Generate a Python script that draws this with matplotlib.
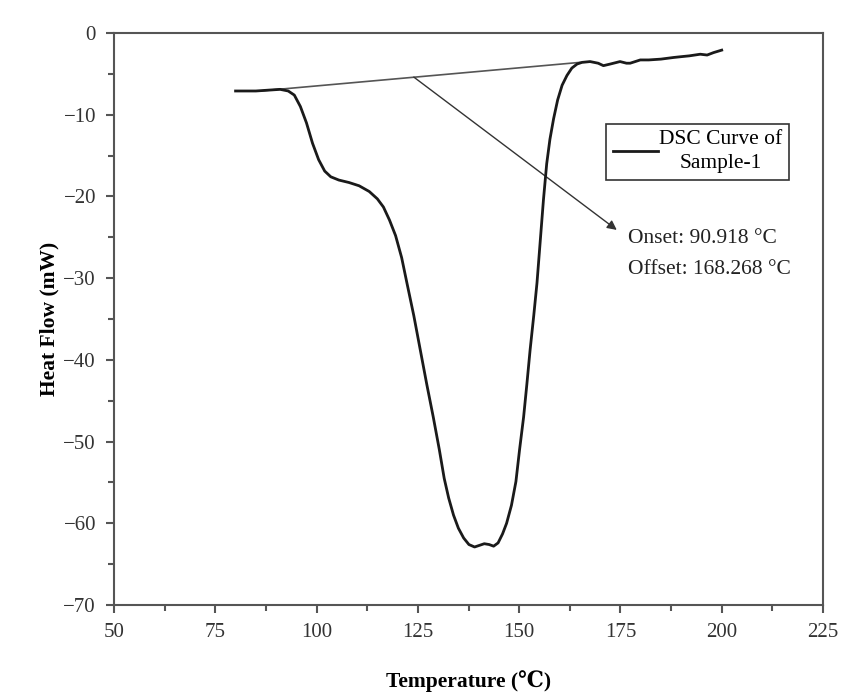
import matplotlib
matplotlib.use("Agg")
import matplotlib.pyplot as plt
from matplotlib.ticker import MultipleLocator

plt.rcParams['font.family'] = ['Liberation Serif', 'DejaVu Serif']

temperature = [80.0, 85, 88, 91, 93, 94.5, 96, 97.5, 99, 100.5, 102, 103.5, 105.5, 108,
               110.5, 113, 115, 116.5, 118, 119.5, 121, 122.3, 124, 125.6, 127.2, 128.8,
               130.3, 131.5, 132.6, 133.8, 135, 136.3, 137.6, 139.0, 140.2, 141.4, 142.6,
               143.7, 144.8, 145.9, 146.9, 148.1, 149.2, 150.1, 151.1, 151.9, 152.7, 153.6,
               154.4, 155.2, 156.0, 156.8, 157.6, 158.5, 159.5, 160.6, 161.8, 163.0, 164.3,
               165.5, 167.5, 169.5, 170.8, 172.5, 174.9, 176.5, 177.4, 179.9, 182, 185,
               188.1, 190, 192, 194.7, 196.4, 198, 200]
heat_flow = [-7.1, -7.1, -7.0, -6.9, -7.1, -7.6, -9.0, -11.0, -13.5, -15.5, -16.9, -17.6, -18.0,
             -18.3, -18.7, -19.4, -20.3, -21.3, -22.9, -24.8, -27.5, -30.6, -34.6, -38.8, -43.0,
             -47.0, -51.0, -54.5, -56.9, -59.0, -60.6, -61.8, -62.6, -62.9, -62.7, -62.5, -62.6,
             -62.8, -62.4, -61.3, -60.0, -57.8, -54.9, -51.0, -47.0, -43.0, -38.8, -34.6, -30.6,
             -25.5, -20.4, -16.0, -13.0, -10.5, -8.2, -6.4, -5.2, -4.3, -3.8, -3.6, -3.5, -3.7,
             -4.0, -3.8, -3.5, -3.7, -3.7, -3.3, -3.3, -3.2, -3.0, -2.9, -2.8, -2.6, -2.7, -2.4,
             -2.1]

baseline_T = [86.0, 165.0]
baseline_HF = [-7.1, -3.6]
arrow_start = (124.0, -5.4)
arrow_end = (174.1, -24.1)

series_label = "DSC Curve of\nSample-1"
onset_text = "Onset: 90.918 °C"
offset_text = "Offset: 168.268 °C"
x_label = "Temperature (℃)"
y_label = "Heat Flow (mW)"

fig = plt.figure(figsize=(8.58, 7.0), dpi=100)
ax = fig.add_axes([0.1329, 0.1357, 0.8263, 0.8172])

ax.plot(baseline_T, baseline_HF, color='#555555', lw=1.2, zorder=2)
ax.annotate('', xy=arrow_end, xytext=arrow_start,
            arrowprops=dict(arrowstyle='-|>', color='#333333', lw=1.0,
                            mutation_scale=14, shrinkA=0, shrinkB=0), zorder=3)
line, = ax.plot(temperature, heat_flow, color='#1a1a1a', lw=2.0, label=series_label, zorder=4)

ax.text(176.8, -25.1, onset_text, fontsize=15.5, color='#222222', va='center', ha='left')
ax.text(176.8, -29.0, offset_text, fontsize=15.5, color='#222222', va='center', ha='left')

ax.set_xlim(50, 225)
ax.set_ylim(-70, 0)
ax.xaxis.set_major_locator(MultipleLocator(25))
ax.xaxis.set_minor_locator(MultipleLocator(12.5))
ax.yaxis.set_major_locator(MultipleLocator(10))
ax.yaxis.set_minor_locator(MultipleLocator(5))

for sp in ax.spines.values():
    sp.set_color('#555555')
    sp.set_linewidth(1.5)
ax.tick_params(which='major', direction='out', length=6, width=1.5, color='#555555',
               labelsize=15, labelcolor='#333333', pad=7)
ax.tick_params(which='minor', direction='out', length=4, width=1.5, color='#555555')

ax.set_xlabel(x_label, fontsize=15.5, fontweight='bold', labelpad=20)
ax.set_ylabel(y_label, fontsize=15.5, fontweight='bold', labelpad=3)

leg = ax.legend(loc='upper left', bbox_to_anchor=(0.694, 0.841), fontsize=15.5,
                frameon=True, fancybox=False, edgecolor='#333333', framealpha=1,
                borderaxespad=0, borderpad=0.3, handlelength=2.1, handletextpad=0.05)
leg.get_frame().set_linewidth(1.2)
for t in leg.get_texts():
    t.set_multialignment('center')
    t.set_linespacing(1.35)

fig.savefig('out.png', dpi=100)
